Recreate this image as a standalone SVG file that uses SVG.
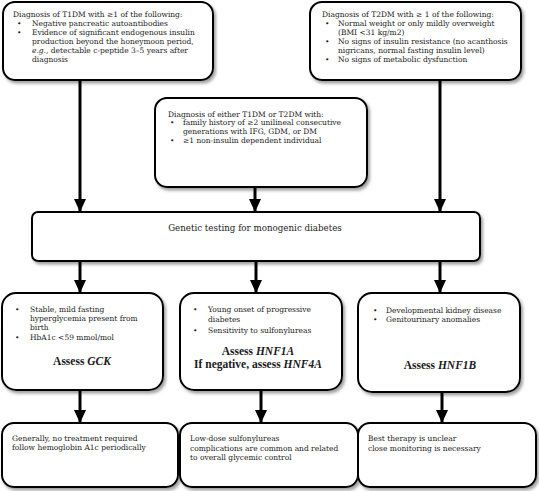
<svg xmlns="http://www.w3.org/2000/svg" width="539" height="491" viewBox="0 0 539 491">
<style>
.box{fill:#fff;stroke:#000;stroke-width:2;filter:url(#sh)}
text{font-family:"DejaVu Serif","Liberation Serif",serif;fill:#1a1a1a;font-size:7.5px}
.big{font-size:8.7px}
.hd{font-family:"Liberation Serif","Times New Roman",serif;font-size:11.5px;font-weight:bold;text-anchor:middle}
.mid{text-anchor:middle}
.conn line{stroke:#000;stroke-width:3;marker-end:url(#ah)}
</style>
<defs>
<filter id="sh" x="-10%" y="-10%" width="125%" height="130%">
<feDropShadow dx="2" dy="2.5" stdDeviation="1.5" flood-color="#777" flood-opacity="0.7"/>
</filter>
<marker id="ah" markerUnits="userSpaceOnUse" markerWidth="14" markerHeight="14" viewBox="0 0 14 14" refX="13" refY="7" orient="auto">
<path d="M0,1 L13,7 L0,13 Z" fill="#000"/>
</marker>
</defs>
<rect width="539" height="491" fill="#fff"/>

<g id="t1dm">
<rect class="box" x="3" y="2" width="210" height="78" rx="12"/>
<text x="13" y="17">Diagnosis of T1DM with ≥1 of the following:</text>
<text x="17" y="26">•</text><text x="32" y="26">Negative pancreatic autoantibodies</text>
<text x="17" y="35">•</text><text x="32" y="35">Evidence of significant endogenous insulin</text>
<text x="32" y="44">production beyond the honeymoon period,</text>
<text x="32" y="53"><tspan font-style="italic">e.g.</tspan>, detectable c-peptide 3–5 years after</text>
<text x="32" y="62">diagnosis</text>
</g>

<g id="t2dm">
<rect class="box" x="310" y="2" width="211" height="78" rx="12"/>
<text x="322" y="17">Diagnosis of T2DM with ≥ 1 of the following:</text>
<text x="325" y="25.9">•</text><text x="338" y="25.9">Normal weight or only mildly overweight</text>
<text x="338" y="34.8">(BMI &lt;31 kg/m2)</text>
<text x="325" y="43.7">•</text><text x="338" y="43.7">No signs of insulin resistance (no acanthosis</text>
<text x="338" y="52.6">nigricans, normal fasting insulin level)</text>
<text x="325" y="61.5">•</text><text x="338" y="61.5">No signs of metabolic dysfunction</text>
</g>

<g id="either">
<rect class="box" x="155" y="98" width="212" height="89" rx="12"/>
<text x="168" y="116.5">Diagnosis of either T1DM or T2DM with:</text>
<text x="170" y="125.4">•</text><text x="183" y="125.4">family history of ≥2 unilineal consecutive</text>
<text x="183" y="134.3">generations with IFG, GDM, or DM</text>
<text x="170" y="143.2">•</text><text x="183" y="143.2">≥1 non-insulin dependent individual</text>
</g>

<g id="genetic">
<rect class="box" x="32" y="212" width="448" height="49" rx="6"/>
<text class="big mid" x="255" y="231">Genetic testing for monogenic diabetes</text>
</g>

<g id="gck">
<rect class="box" x="2" y="293" width="161" height="97" rx="14"/>
<text x="15" y="312">•</text><text x="30" y="312">Stable, mild fasting</text>
<text x="30" y="321">hyperglycemia present from</text>
<text x="30" y="330">birth</text>
<text x="15" y="339.5">•</text><text x="30" y="339.5">HbA1c &lt;59 mmol/mol</text>
<text class="hd" x="82" y="365">Assess <tspan font-style="italic">GCK</tspan></text>
</g>

<g id="hnf1a">
<rect class="box" x="180" y="293" width="162" height="97" rx="14"/>
<text x="193" y="312">•</text><text x="208" y="312">Young onset of progressive</text>
<text x="208" y="321.5">diabetes</text>
<text x="193" y="333">•</text><text x="208" y="333">Sensitivity to sulfonylureas</text>
<text class="hd" x="258" y="354.5">Assess <tspan font-style="italic">HNF1A</tspan></text>
<text class="hd" x="258" y="368">If negative, assess <tspan font-style="italic">HNF4A</tspan></text>
</g>

<g id="hnf1b">
<rect class="box" x="358" y="293" width="162" height="99" rx="14"/>
<text x="373" y="313">•</text><text x="386" y="313">Developmental kidney disease</text>
<text x="373" y="322">•</text><text x="386" y="322">Genitourinary anomalies</text>
<text class="hd" x="440" y="369">Assess <tspan font-style="italic">HNF1B</tspan></text>
</g>

<g id="tx-gck">
<rect class="box" x="2" y="423" width="176" height="64" rx="12"/>
<text x="12" y="441">Generally, no treatment required</text>
<text x="12" y="450">follow hemoglobin A1c periodically</text>
</g>

<g id="tx-hnf1a">
<rect class="box" x="180" y="423" width="178" height="64" rx="12"/>
<text x="190" y="441">Low-dose sulfonylureas</text>
<text x="190" y="450.5">complications are common and related</text>
<text x="190" y="460">to overall glycemic control</text>
</g>

<g id="tx-hnf1b">
<rect class="box" x="358" y="423" width="178" height="64" rx="12"/>
<text x="368" y="441">Best therapy is unclear</text>
<text x="368" y="450.5">close monitoring is necessary</text>
</g>

<g class="conn" id="connectors">
<line x1="80" y1="81" x2="80" y2="212"/>
<line x1="255" y1="188" x2="255" y2="212"/>
<line x1="440" y1="81" x2="440" y2="212"/>
<line x1="80" y1="262" x2="80" y2="293"/>
<line x1="256" y1="262" x2="256" y2="293"/>
<line x1="440" y1="262" x2="440" y2="293"/>
<line x1="80" y1="391" x2="80" y2="423"/>
<line x1="261" y1="391" x2="261" y2="423"/>
<line x1="442" y1="393" x2="442" y2="423"/>
</g>
</svg>
